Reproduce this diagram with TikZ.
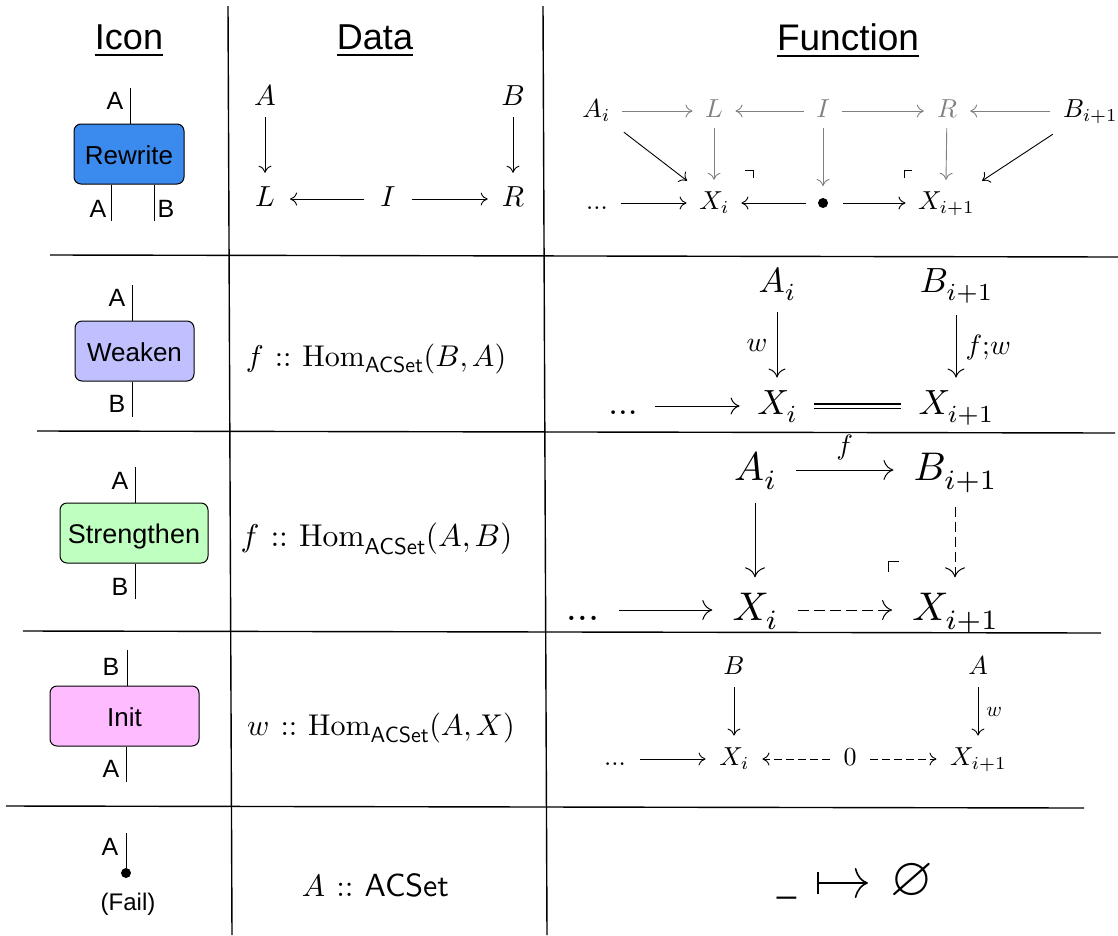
\documentclass[tikz,border=0pt]{standalone}
\usepackage[no-math]{fontspec}
\usepackage{amssymb}
\DeclareFontFamily{OML}{cmm}{\skewchar\font'177}
\DeclareFontShape{OML}{cmm}{m}{it}{<->cmmi10}{}
\DeclareFontFamily{OT1}{cmr}{\hyphenchar\font45}
\DeclareFontShape{OT1}{cmr}{m}{n}{<->cmr10}{}
\setsansfont{Liberation Sans}
\usetikzlibrary{arrows.meta}
\definecolor{cmgray}{HTML}{808080}
\newcommand{\fs}[1]{\fontsize{#1}{#1}\selectfont}
\newcommand{\acs}[1]{\hbox{\font\myacs=cmss10 at #1pt \myacs ACSet}}
\newcommand{\hm}[3]{\mathrm{Hom}_{\acs{#1}}(#2,#3)}
\newcommand{\si}[1]{\hbox{\font\myfsx=cmmi7 at #1pt \myfsx i}}
\newcommand{\sip}[1]{\hbox{\font\myfsx=cmmi7 at #1pt \font\myfsr=cmr7 at #1pt \myfsx i\myfsr +1}}
\tikzset{
  rule/.style={line width=1.4pt,black},
  head/.style={inner sep=0pt,font=\sffamily\fs{36}},
  lab/.style={inner sep=0pt,font=\sffamily\fs{25}},
  wire/.style={line width=1pt},
  opbox/.style={draw,line width=1pt,rounded corners=7pt,inner sep=0pt,font=\sffamily\fs{26},text height=25pt,text depth=5pt},
  dt/.style={inner ysep=0pt,font=\fs{29},text height=20.3pt,text depth=5.8pt,inner xsep=16pt},
  dh/.style={inner sep=0pt,font=\fs{31.5},text height=22.05pt,text depth=6.3pt},
  dg/.style={inner sep=0pt,font=\fs{30},text height=21pt,text depth=6pt},
  fa/.style={font=\fs{26},text height=18.2pt,text depth=5.2pt,inner xsep=12.5pt,inner ysep=5.3pt},
  fb/.style={font=\fs{35},text height=24.5pt,text depth=7pt,inner xsep=17.5pt,inner ysep=12.5pt},
  fc/.style={font=\fs{40},text height=28pt,text depth=8pt,inner xsep=20pt,inner ysep=14.5pt},
  fd/.style={font=\fs{26},text height=18.2pt,text depth=5.2pt,inner xsep=13.5pt,inner ysep=7.5pt},
  ar/.style={-{Computer Modern Rightarrow[length=7pt,width=13pt]},line width=.9pt},
  arb/.style={-{Computer Modern Rightarrow[length=9pt,width=17pt]},line width=1pt},
  arc/.style={-{Computer Modern Rightarrow[length=10pt,width=20pt]},line width=1pt},
  gr/.style={ar,cmgray},
  corner/.style={line width=.8pt},
}
\begin{document}
\begin{tikzpicture}[x=1pt,y=-1pt]
\useasboundingbox (0,0) rectangle (1118,935);
% table rules
\draw[rule] (228,6) -- (232,935);
\draw[rule] (543,6) -- (547,935);
\draw[rule] (50,255) -- (1118,257);
\draw[rule] (37,431) -- (1115,433);
\draw[rule] (23,631) -- (1101,633);
\draw[rule] (6,806) -- (1084,808);
% headers
\node[head] (hicon) at (129,41) {\underline{Icon}};
\node[head] (hdata) at (375,41) {\underline{Data}};
\node[head,font=\sffamily\fs{37}] (hfunc) at (848,41) {\underline{Function}};
% icons
\node[opbox,fill={rgb,255:red,59;green,139;blue,238},minimum width=110pt,minimum height=60pt] (rw) at (129,154) {Rewrite};
\coordinate (rwt) at (130,88); \coordinate (rwa) at (111,221); \coordinate (rwb) at (154,221);
\draw[wire] (rwt) -- (rwt |- rw.north);
\draw[wire] (rw.south -| rwa) -- (rwa);
\draw[wire] (rw.south -| rwb) -- (rwb);
\node[lab] (rwla) at (115,101) {A};
\node[lab] (rwlb) at (98,209) {A};
\node[lab] (rwlc) at (166,209) {B};
\node[opbox,fill={rgb,255:red,192;green,192;blue,255},minimum width=119pt,minimum height=60pt] (wk) at (134.5,351) {Weaken};
\coordinate (wkt) at (132,285); \coordinate (wkb) at (132,417);
\draw[wire] (wkt) -- (wkt |- wk.north);
\draw[wire] (wk.south -| wkb) -- (wkb);
\node[lab] (wkla) at (117,298) {A};
\node[lab] (wklb) at (117,404) {B};
\node[opbox,font=\sffamily\fs{27},fill={rgb,255:red,191;green,255;blue,191},minimum width=148pt,minimum height=60pt] (st) at (134,533) {Strengthen};
\coordinate (stt) at (135,467); \coordinate (stb) at (135,599);
\draw[wire] (stt) -- (stt |- st.north);
\draw[wire] (st.south -| stb) -- (stb);
\node[lab] (stla) at (120,481) {A};
\node[lab] (stlb) at (120,587) {B};
\node[opbox,fill={rgb,255:red,255;green,187;blue,255},minimum width=149pt,minimum height=60pt] (in) at (124.5,716) {Init};
\coordinate (int) at (127,650); \coordinate (inb) at (126,782);
\draw[wire] (int) -- (int |- in.north);
\draw[wire] (in.south -| inb) -- (inb);
\node[lab] (inla) at (111,667) {B};
\node[lab] (inlb) at (111,769) {A};
\node[lab] (fla) at (110,847) {A};
\coordinate (flt) at (126,833);
\node[circle,fill=black,inner sep=0pt,minimum size=10pt] (fdot) at (126,873) {};
\draw[wire] (flt) -- (fdot);
\node[lab,font=\sffamily\fs{24}] (flf) at (128,904) {(Fail)};
% data column
\node[dt,inner ysep=6pt] (dA) at (265,98) {$A$};
\node[dt,inner ysep=6pt] (dB) at (513,98) {$B$};
\node[dt,inner ysep=13pt,inner xsep=15pt] (dL) at (265,199) {$L$};
\node[dt] (dI) at (388,199) {$I$};
\node[dt,inner ysep=13pt,inner xsep=14pt] (dR) at (513,199) {$R$};
\draw[ar] (dA) -- (dL);
\draw[ar] (dB) -- (dR);
\draw[ar] (dI) -- (dL);
\draw[ar] (dI) -- (dR);
\node[dg] (d2) at (376,358.5) {$f\,::\,\hm{22}{B}{A}$};
\node[dh] (d3) at (376.5,539) {$f\,::\,\hm{23}{A}{B}$};
\node[dg] (d4) at (381,728) {$w\,::\,\hm{22}{A}{X}$};
\node[dh,font=\fs{31}] (d5) at (375.5,889) {$A\,::\,\acs{32}$};
% function row 1
\node[fa] (a1) at (596,111) {$A_{\si{18.2}}$};
\node[fa,text=cmgray] (L1) at (714,111) {$L$};
\node[fa,text=cmgray] (I1) at (823,111) {$I$};
\node[fa,text=cmgray,inner xsep=13pt] (R1) at (947,111) {$R$};
\node[fa] (b1) at (1090,111) {$B_{\sip{18.2}}$};
\node[fa] (d1) at (597,203) {$...$};
\node[fa,inner ysep=11.3pt] (x1) at (714,203) {$X_{\si{18.2}}$};
\node[circle,fill=black,inner sep=0pt,minimum size=10pt,outer sep=12pt] (p1) at (823,203) {};
\node[fa,inner ysep=11.3pt] (y1) at (946,203) {$X_{\sip{18.2}}$};
\draw[gr] (a1) -- (L1);
\draw[gr] (I1) -- (L1);
\draw[gr] (I1) -- (R1);
\draw[gr] (b1) -- (R1);
\draw[gr] (L1) -- (x1);
\draw[gr] (I1) -- (p1);
\draw[gr] (R1) -- (y1 |- x1.north);
\draw[ar] ([shift={(1.5,4)}]a1.south east) -- ([shift={(0.5,1)}]x1.north west);
\draw[ar] ([shift={(2.5,6)}]b1.south west) -- ([shift={(-4.5,1)}]y1.north east);
\draw[ar] (d1) -- (x1);
\draw[ar] (p1) -- (x1);
\draw[ar,shorten <=3pt] (p1) -- (y1);
\draw[corner] (745,170) -- (753,170) -- (753,178);
\draw[corner] (904,178) -- (904,170) -- (912,170);
% function row 2
\node[fb] (a2) at (777,284) {$A_{\si{24.5}}$};
\node[fb] (b2) at (956,284) {$B_{\sip{24.5}}$};
\node[fb] (d2f) at (623,406) {$...$};
\node[fb] (x2) at (777,406) {$X_{\si{24.5}}$};
\node[fb] (y2) at (956,406) {$X_{\sip{24.5}}$};
\draw[arb] (a2) -- node[left,inner sep=9pt,font=\fs{28}] (lw2) {$w$} (x2);
\draw[arb,shorten <=3pt] (b2) -- node[right,inner sep=9pt,font=\fs{28},yshift=-2pt] (lf2) {$f{;}w$} (y2);
\draw[arb] (d2f) -- (x2);
\draw[line width=1.4pt,double,double distance=3pt] (x2) -- (y2);
% function row 3
\node[fc] (a3) at (755,470) {$A_{\si{28}}$};
\node[fc] (b3) at (955,470) {$B_{\sip{28}}$};
\node[fc] (d3f) at (582.5,610) {$...$};
\node[fc] (x3) at (755,610) {$X_{\si{28}}$};
\node[fc] (y3) at (955,610) {$X_{\sip{28}}$};
\draw[arc] (a3) -- node[above,inner sep=10pt,font=\fs{28}] (lf3) {$f$} (b3);
\draw[arc] (a3) -- (x3);
\draw[arc] (d3f) -- (x3);
\draw[arc,shorten <=4pt,dash pattern=on 10pt off 5pt] (b3) -- (y3);
\draw[arc,dash pattern=on 11pt off 5pt] (x3) -- (y3);
\draw[corner] (888,572) -- (888,561) -- (899,561);
% function row 4
\node[fd] (a4) at (734,668) {$B$};
\node[fd] (b4) at (978,668) {$A$};
\node[fd] (d4f) at (615,759) {$...$};
\node[fd,inner ysep=11.5pt] (x4) at (734,759) {$X_{\si{18.2}}$};
\node[fd] (z4) at (850,759) {$0$};
\node[fd,inner ysep=11.5pt] (y4) at (978,759) {$X_{\sip{18.2}}$};
\draw[ar] (a4) -- (x4);
\draw[ar] (b4) -- node[right,inner sep=8pt,font=\fs{21}] (lw4) {$w$} (y4);
\draw[ar] (d4f) -- (x4);
\draw[ar,dash pattern=on 7.5pt off 4.5pt] (z4) -- (x4);
\draw[ar,dash pattern=on 7.5pt off 4.5pt] (z4) -- (y4);
% function row 5
\node[inner sep=0pt,font=\sffamily\fs{34},anchor=base] (us) at (786.5,892) {\textunderscore};
\node[inner ysep=0pt,inner xsep=22.6pt,font=\fs{55},text height=38.5pt,text depth=11pt] (em) at (912,882) {$\varnothing$};
\coordinate (ms) at (817,883);
\draw[line width=1.6pt,{Bar[width=22pt,line width=1.6pt]}-{Computer Modern Rightarrow[length=13pt,width=30pt,line width=1.6pt]}] (ms) -- (ms -| em.west);
\end{tikzpicture}
\end{document}
